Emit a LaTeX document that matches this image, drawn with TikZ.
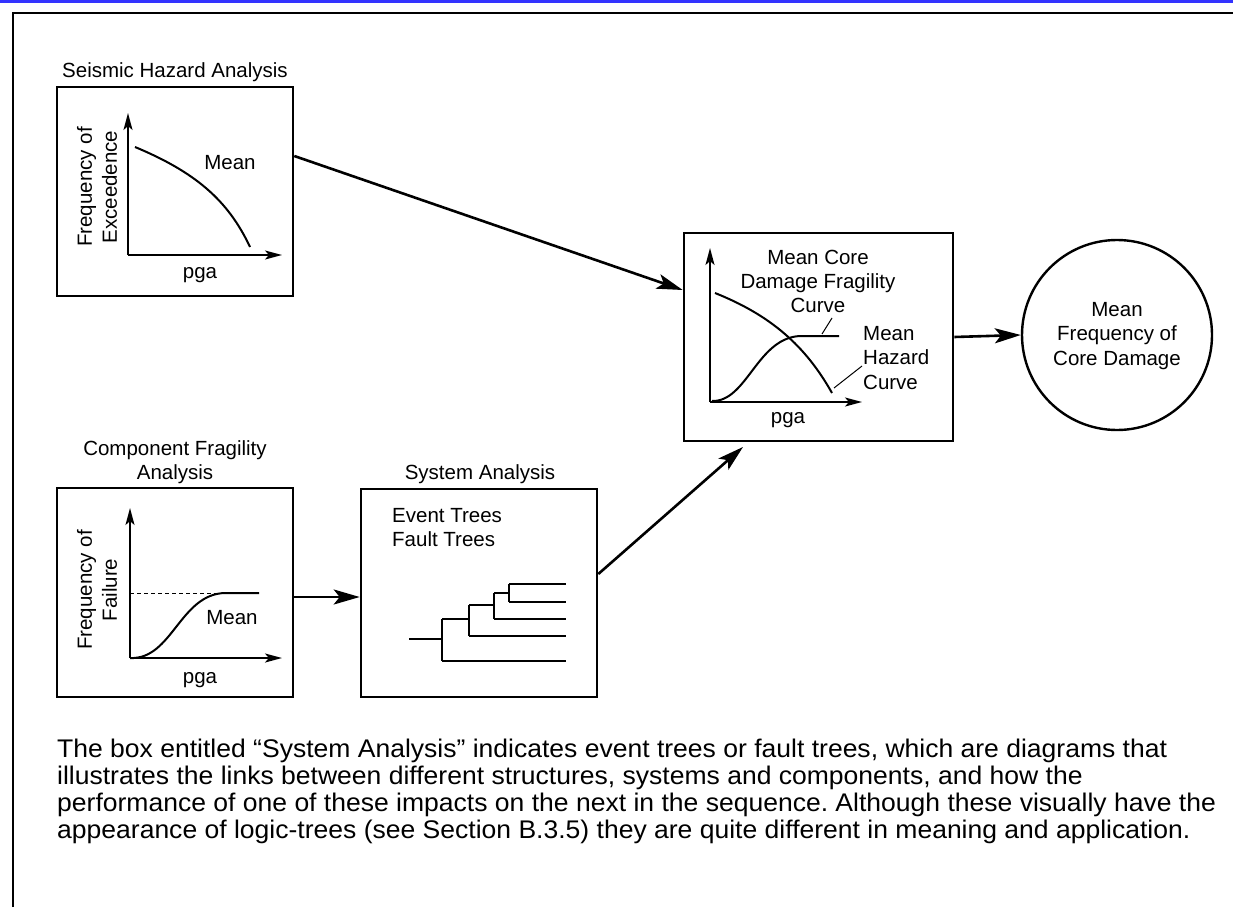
\documentclass[tikz,border=0pt]{standalone}
\usepackage{fontspec}
\setmainfont{Liberation Sans}
\usetikzlibrary{arrows.meta}
\definecolor{topbar}{RGB}{51,51,255}
\newcommand{\captionline}[1]{\scalebox{1.04}[1]{#1}}
\frenchspacing
\begin{document}
\begin{tikzpicture}[x=1pt,y=-1pt,
  box/.style={draw,line width=2.6pt,inner sep=0pt},
  lbl/.style={font=\fontsize{20.5}{24}\selectfont,inner sep=0pt,align=center},
  axis/.style={line width=2pt,-{Stealth[length=17pt,width=9pt,inset=4pt]}},
  flow/.style={line width=2.6pt,-{Stealth[length=26pt,width=15pt,inset=6pt]}},
  curve/.style={line width=2pt},
  thin/.style={line width=1pt},
  tree/.style={line width=2pt}]
\useasboundingbox (0,0) rectangle (1233,907);
% page frame
\fill[topbar] (0,0) rectangle (1233,3.5);
\draw[line width=2.6pt] (13,907) -- (13,13) -- (1233,13);

% ---------- Seismic hazard analysis ----------
\node[box,minimum width=236pt,minimum height=209pt] (sha) at (175,191.5) {};
\node[lbl] (shat) at (175,72) {Seismic Hazard Analysis};
\coordinate (shao) at (128,255);
\draw[axis] (shao) -- (128,113);
\draw[axis] (shao) -- (282,255);
\draw[curve] (135,147) .. controls (195,172) and (228,200) .. (250,247);
\node[lbl] (sham) at (230,163) {Mean};
\node[lbl] (shax) at (200,275) {pga};
\node[lbl,rotate=90,font=\fontsize{20.5}{25}\selectfont] (shay) at (97,187) {Frequency of\\Exceedence};

% ---------- Component fragility analysis ----------
\node[box,minimum width=236pt,minimum height=209pt] (cfa) at (175,592.5) {};
\node[lbl] (cfat) at (175,462) {Component Fragility\\Analysis};
\coordinate (cfao) at (130,658);
\draw[axis] (cfao) -- (130,508);
\draw[axis] (cfao) -- (282,658);
\draw[thin,dashed,dash pattern=on 4pt off 3pt] (130,593) -- (220,593);
\draw[curve] (130,658) .. controls (172,660) and (180,594) .. (225,593) -- (259,593);
\node[lbl] (cfam) at (232,618) {Mean};
\node[lbl] (cfax) at (200,680) {pga};
\node[lbl,rotate=90,font=\fontsize{20.5}{25}\selectfont] (cfay) at (97,590) {Frequency of\\Failure};

% ---------- System analysis ----------
\node[box,minimum width=236pt,minimum height=208pt] (sys) at (479,593) {};
\node[lbl] (syst) at (480,474) {System Analysis};
\node[lbl,align=left,anchor=north west] (syse) at (392,508) {Event Trees\\Fault Trees};
% event / fault tree
\coordinate (t0) at (409,639);
\draw[tree] (t0) -- (442,639);
\draw[tree] (442,619) -- (442,661);
\draw[tree] (442,661) -- (566,661);
\draw[tree] (442,619) -- (469,619);
\draw[tree] (469,605) -- (469,636);
\draw[tree] (469,636) -- (566,636);
\draw[tree] (469,605) -- (494,605);
\draw[tree] (494,593) -- (494,619);
\draw[tree] (494,619) -- (566,619);
\draw[tree] (494,593) -- (509,593);
\draw[tree] (509,584) -- (509,602);
\draw[tree] (509,584) -- (566,584);
\draw[tree] (509,602) -- (566,602);

% ---------- Core damage fragility ----------
\node[box,minimum width=269pt,minimum height=208pt] (cdf) at (818.5,337) {};
\coordinate (cdfo) at (710,402);
\draw[axis] (cdfo) -- (710,248);
\draw[axis] (cdfo) -- (862,402);
\draw[curve] (715,293) .. controls (770,315) and (805,345) .. (832,393);
\draw[curve] (712,401) .. controls (747,402) and (757,338) .. (800,336) -- (839,336);
\node[lbl] (cdft) at (818,281) {Mean Core\\Damage Fragility\\Curve};
\node[lbl,align=left,anchor=west,font=\fontsize{20.5}{24.5}\selectfont] (cdfh) at (863,358) {Mean\\Hazard\\Curve};
\node[lbl] (cdfx) at (788,420) {pga};
\draw[thin] (832,318) -- (822,334);
\draw[thin] (862,366) -- (834,388);

% ---------- Result ----------
\node[draw,circle,line width=2.4pt,minimum size=190pt,inner sep=0pt] (res) at (1117,335) {};
\node[lbl,font=\fontsize{20.5}{24.5}\selectfont] (rest) at (1117,336) {Mean\\Frequency of\\Core Damage};

% ---------- Flow arrows ----------
\draw[flow] (sha.east |- 0,156) -- (cdf.west |- 0,290);
\draw[flow] (cfa.east |- 0,597) -- (sys.west |- 0,597);
\draw[flow] (sys.east |- 0,574) -- (743,447);
\draw[flow] (cdf.east |- 0,337) -- (res.west);

% ---------- Caption ----------
\begin{scope}[every node/.style={anchor=base west,inner sep=0pt,font=\fontsize{25.5}{27}\selectfont}]
\node (c1) at (57,757) {\captionline{The box entitled “System Analysis” indicates event trees or fault trees, which are diagrams that}};
\node (c2) at (57,784) {\captionline{illustrates the links between different structures, systems and components, and how the}};
\node (c3) at (57,811) {\captionline{performance of one of these impacts on the next in the sequence. Although these visually have the}};
\node (c4) at (57,838) {\captionline{appearance of logic-trees (see Section B.3.5) they are quite different in meaning and application.}};
\end{scope}
\end{tikzpicture}
\end{document}
